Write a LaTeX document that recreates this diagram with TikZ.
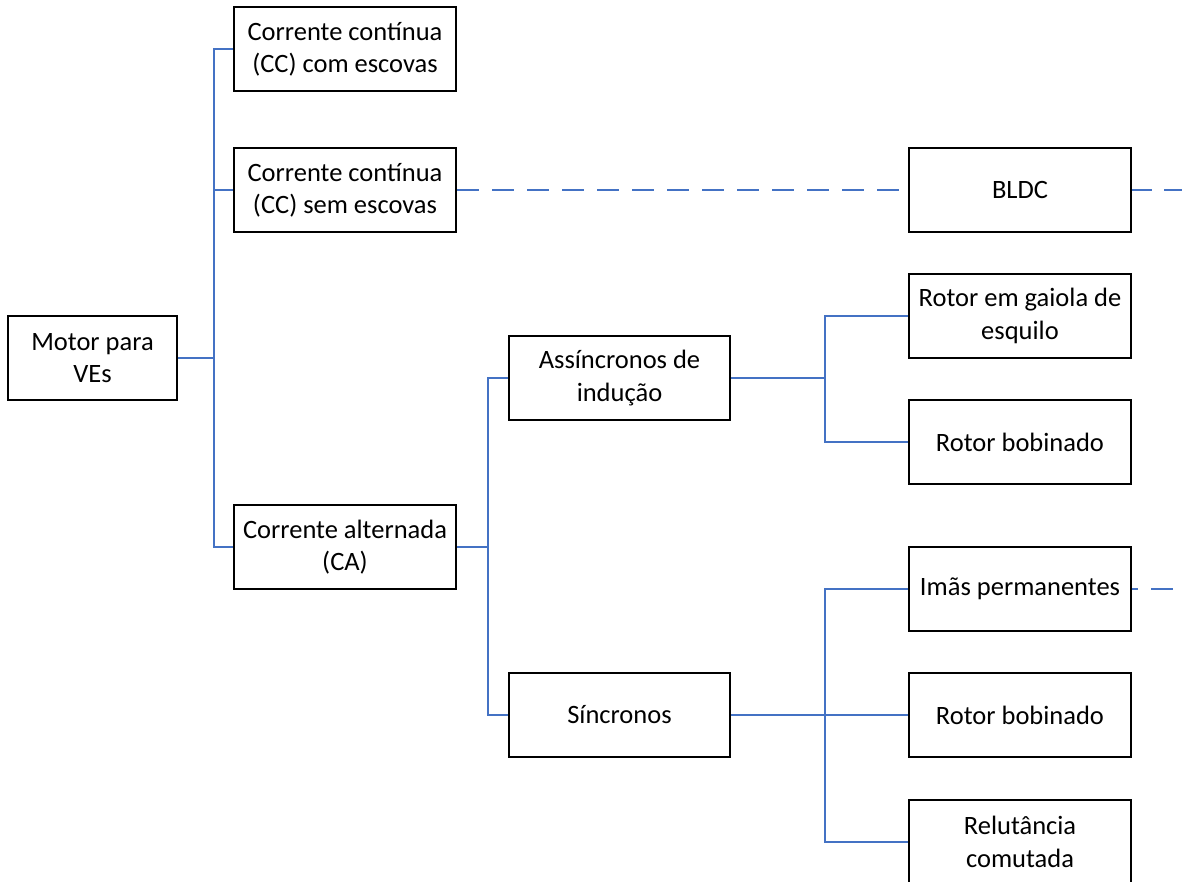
\documentclass[tikz,border=0pt]{standalone}
\usepackage{fontspec}
\setmainfont{Carlito}
\begin{document}
\begin{tikzpicture}[x=1pt,y=-1pt,
  box/.style={draw=black,line width=2.2pt,minimum width=222pt,minimum height=84pt,
    inner sep=0pt,align=center,font=\fontsize{26.5}{32.3}\selectfont},
  link/.style={draw={rgb,255:red,68;green,114;blue,196},line width=1.6pt},
  dlink/.style={link,dash pattern=on 22pt off 13pt}]
\clip (0,0) rectangle (1182,881);
\fill[white] (0,0) rectangle (1182,881);

% tree of motor types
\node[box,minimum width=169pt] (motor) at (92.5,358) {Motor para\\VEs};
\node[box] (cc1) at (345,49) {Corrente contínua\\(CC) com escovas};
\node[box] (cc2) at (345,190) {Corrente contínua\\(CC) sem escovas};
\node[box] (ca) at (345,547) {Corrente alternada\\(CA)};
\node[box,minimum width=221pt] (ass) at (619.5,378) {Assíncronos de\\indução};
\node[box,minimum width=221pt] (sin) at (619.5,715) {Síncronos};
\node[box] (bldc) at (1020,190) {BLDC};
\node[box] (gai) at (1020,316) {Rotor em gaiola de\\esquilo};
\node[box] (bob1) at (1020,442) {Rotor bobinado};
\node[box] (ima) at (1020,589) {Imãs permanentes};
\node[box] (bob2) at (1020,715) {Rotor bobinado};
\node[box] (rel) at (1020,842) {Relutância\\comutada};

% open ends of the dashed links
\coordinate (bldcout) at (1182,190);
\coordinate (imaout) at (1182,589);

% branches
\draw[link] (motor.east) -- ++(36,0) |- (cc1.west);
\draw[link] (motor.east) -- ++(36,0) |- (cc2.west);
\draw[link] (motor.east) -- ++(36,0) |- (ca.west);
\draw[link] (ca.east) -- ++(31,0) |- (ass.west);
\draw[link] (ca.east) -- ++(31,0) |- (sin.west);
\draw[link] (ass.east) -- ++(94,0) |- (gai.west);
\draw[link] (ass.east) -- ++(94,0) |- (bob1.west);
\draw[link] (sin.east) -- ++(94,0) |- (ima.west);
\draw[link] (sin.east) -- (bob2.west);
\draw[link] (sin.east) -- ++(94,0) |- (rel.west);

% dashed links
\draw[dlink] (cc2.east) -- (bldc.west);
\draw[link,dash pattern=on 20pt off 12pt] (bldc.east) -- (bldcout);
\draw[link,dash pattern=on 22pt off 13pt,dash phase=16pt] (ima.east) -- (imaout);
\end{tikzpicture}
\end{document}
